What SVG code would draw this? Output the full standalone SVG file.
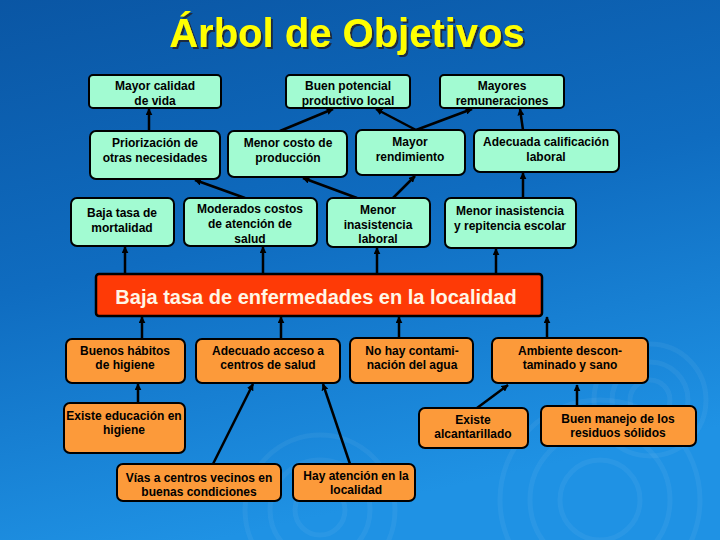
<svg xmlns="http://www.w3.org/2000/svg" width="720" height="540" viewBox="0 0 720 540">
<defs>
<linearGradient id="bg" x1="0" y1="0" x2="0.3" y2="1">
<stop offset="0" stop-color="#0a56a4"/>
<stop offset="0.5" stop-color="#0f6cc0"/>
<stop offset="1" stop-color="#1f92e4"/>
</linearGradient>
<filter id="sh" x="-5%" y="-20%" width="110%" height="140%">
<feDropShadow dx="2" dy="2" stdDeviation="0.5" flood-color="#1a2a40" flood-opacity="1"/>
</filter>
<marker id="ah" viewBox="0 0 10 10" refX="9" refY="5" markerWidth="7" markerHeight="7" markerUnits="userSpaceOnUse" orient="auto">
<path d="M0,0 L10,5 L0,10 z" fill="#000"/>
</marker>
<style>
.g{fill:#a2fbd2;stroke:#000;stroke-width:2}
.o{fill:#fc9a3a;stroke:#000;stroke-width:2}
.t{font-family:"Liberation Sans",Arial,sans-serif;font-size:12px;font-weight:bold;fill:#000;text-anchor:middle}
.c line{stroke:#000;stroke-width:2.5;marker-end:url(#ah)}
.rip{fill:none;stroke:#ffffff;stroke-opacity:0.05;stroke-width:5}
</style>
</defs>
<rect width="720" height="540" fill="url(#bg)"/>
<g id="ripples">
<circle class="rip" cx="650" cy="400" r="20"/>
<circle class="rip" cx="650" cy="400" r="38"/>
<circle class="rip" cx="650" cy="400" r="56"/>
<circle class="rip" cx="600" cy="500" r="40"/>
<circle class="rip" cx="600" cy="500" r="70"/>
<circle class="rip" cx="600" cy="500" r="100"/>
<circle class="rip" cx="320" cy="510" r="25"/>
<circle class="rip" cx="320" cy="510" r="50"/>
<circle class="rip" cx="320" cy="510" r="75"/>
</g>
<g id="title">
<text x="347" y="47" font-family="'Liberation Sans',Arial,sans-serif" font-size="40" font-weight="bold" fill="#ffff00" text-anchor="middle" filter="url(#sh)">Árbol de Objetivos</text>
</g>
<g class="c" id="connectors">
<line x1="149" y1="131" x2="149" y2="109"/>
<line x1="280" y1="131" x2="333" y2="109"/>
<line x1="416" y1="130" x2="376" y2="109"/>
<line x1="416" y1="130" x2="472" y2="109"/>
<line x1="523" y1="130" x2="520" y2="109"/>
<line x1="245" y1="198" x2="195" y2="180"/>
<line x1="357" y1="198" x2="303" y2="178"/>
<line x1="393" y1="198" x2="415" y2="176"/>
<line x1="523" y1="198" x2="523" y2="173"/>
<line x1="125" y1="274" x2="125" y2="247"/>
<line x1="263" y1="274" x2="263" y2="247"/>
<line x1="377" y1="274" x2="377" y2="248"/>
<line x1="496" y1="274" x2="496" y2="249"/>
<line x1="142" y1="339" x2="142" y2="317"/>
<line x1="281" y1="339" x2="281" y2="317"/>
<line x1="399" y1="338" x2="399" y2="317"/>
<line x1="547" y1="338" x2="547" y2="317"/>
<line x1="138" y1="403" x2="138" y2="384"/>
<line x1="213" y1="464" x2="253" y2="384"/>
<line x1="350" y1="464" x2="323" y2="384"/>
<line x1="477" y1="408" x2="508" y2="385"/>
<line x1="577" y1="406" x2="577" y2="385"/>
</g>
<g id="n1"><rect class="g" x="89" y="75" width="132" height="33" rx="4"/><text class="t" x="155" y="90">Mayor calidad</text><text class="t" x="155" y="105">de vida</text></g>
<g id="n2"><rect class="g" x="286" y="75" width="124" height="33" rx="4"/><text class="t" x="348" y="90">Buen potencial</text><text class="t" x="348" y="105">productivo local</text></g>
<g id="n3"><rect class="g" x="440" y="75" width="124" height="33" rx="4"/><text class="t" x="502" y="90">Mayores</text><text class="t" x="502" y="105">remuneraciones</text></g>
<g id="n4"><rect class="g" x="90" y="131" width="130" height="48" rx="6"/><text class="t" x="155" y="147">Priorización de</text><text class="t" x="155" y="162">otras necesidades</text></g>
<g id="n5"><rect class="g" x="228" y="131" width="119" height="46" rx="6"/><text class="t" x="288" y="147">Menor costo de</text><text class="t" x="288" y="162">producción</text></g>
<g id="n6"><rect class="g" x="356" y="130" width="109" height="45" rx="6"/><text class="t" x="410" y="146">Mayor</text><text class="t" x="410" y="161">rendimiento</text></g>
<g id="n7"><rect class="g" x="474" y="130" width="145" height="42" rx="6"/><text class="t" x="546" y="146">Adecuada calificación</text><text class="t" x="546" y="161">laboral</text></g>
<g id="n8"><rect class="g" x="71" y="198" width="103" height="48" rx="6"/><text class="t" x="122" y="217">Baja tasa de</text><text class="t" x="122" y="232">mortalidad</text></g>
<g id="n9"><rect class="g" x="184" y="198" width="133" height="48" rx="6"/><text class="t" x="250" y="213">Moderados costos</text><text class="t" x="250" y="228">de atención de</text><text class="t" x="250" y="243">salud</text></g>
<g id="n10"><rect class="g" x="327" y="198" width="103" height="49" rx="6"/><text class="t" x="378" y="214">Menor</text><text class="t" x="378" y="229">inasistencia</text><text class="t" x="378" y="243">laboral</text></g>
<g id="n11"><rect class="g" x="445" y="198" width="131" height="50" rx="6"/><text class="t" x="510" y="215">Menor inasistencia</text><text class="t" x="510" y="230">y repitencia escolar</text></g>
<g id="main"><rect x="96" y="274" width="446" height="42" rx="3" fill="#fe3a06" stroke="#000" stroke-width="2.5"/><text x="316" y="304" font-family="'Liberation Sans',Arial,sans-serif" font-size="20" font-weight="bold" fill="#fff6e6" text-anchor="middle">Baja tasa de enfermedades en la localidad</text></g>
<g id="n12"><rect class="o" x="66" y="339" width="119" height="44" rx="6"/><text class="t" x="125" y="355">Buenos hábitos</text><text class="t" x="125" y="369">de higiene</text></g>
<g id="n13"><rect class="o" x="196" y="339" width="144" height="44" rx="6"/><text class="t" x="268" y="355">Adecuado acceso a</text><text class="t" x="268" y="369">centros de salud</text></g>
<g id="n14"><rect class="o" x="350" y="338" width="123" height="45" rx="6"/><text class="t" x="412" y="355">No hay contami-</text><text class="t" x="412" y="369">nación del agua</text></g>
<g id="n15"><rect class="o" x="492" y="338" width="156" height="45" rx="6"/><text class="t" x="570" y="355">Ambiente descon-</text><text class="t" x="570" y="369">taminado y sano</text></g>
<g id="n16"><rect class="o" x="64" y="403" width="121" height="50" rx="6"/><text class="t" x="124" y="420">Existe educación en</text><text class="t" x="124" y="434">higiene</text></g>
<g id="n17"><rect class="o" x="419" y="408" width="109" height="40" rx="6"/><text class="t" x="473" y="424">Existe</text><text class="t" x="473" y="438">alcantarillado</text></g>
<g id="n18"><rect class="o" x="541" y="406" width="155" height="40" rx="6"/><text class="t" x="618" y="423">Buen manejo de los</text><text class="t" x="618" y="437">residuos sólidos</text></g>
<g id="n19"><rect class="o" x="117" y="464" width="164" height="37" rx="6"/><text class="t" x="199" y="482">Vías a centros vecinos en</text><text class="t" x="199" y="496">buenas condiciones</text></g>
<g id="n20"><rect class="o" x="293" y="464" width="122" height="37" rx="6"/><text class="t" x="356" y="480">Hay atención en la</text><text class="t" x="356" y="494">localidad</text></g>
</svg>
